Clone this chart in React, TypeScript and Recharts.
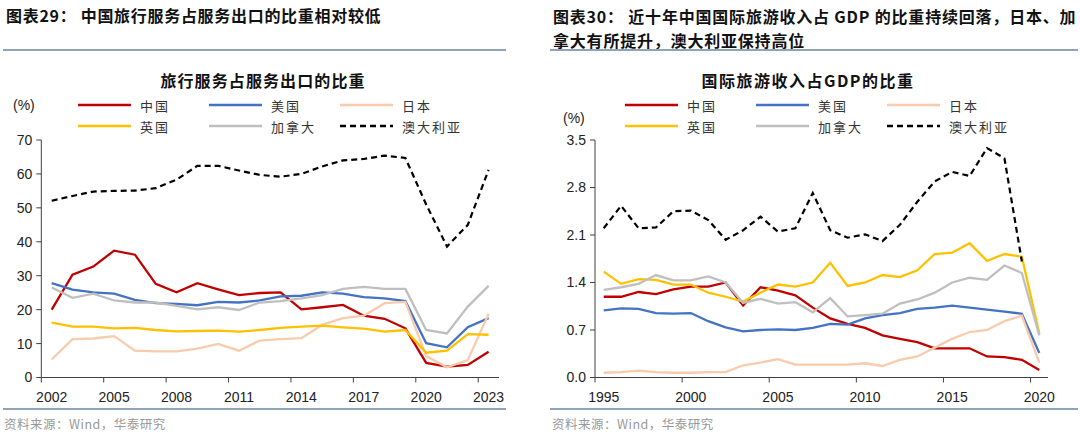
import React from 'react';
import { LineChart, Line, XAxis, YAxis } from 'recharts';

// 图表29：旅行服务占服务出口的比重 (%)
const yearsA = ['2002', '2003', '2004', '2005', '2006', '2007', '2008', '2009', '2010', '2011', '2012',
  '2013', '2014', '2015', '2016', '2017', '2018', '2019', '2020', '2021', '2022', '2023'];
const chinaA = [20, 30.3, 32.7, 37.4, 36.2, 27.6, 25.1, 27.8, 26, 24.3, 24.9, 25.1, 20.1, 20.7, 21.4, 18.2, 17.3, 14.5, 4.3, 3.2, 3.7, 7.6];
const usA = [27.8, 25.9, 25.1, 24.7, 22.9, 21.9, 21.7, 21.3, 22.3, 22.1, 22.7, 23.9, 24.1, 25.1, 24.7, 23.7, 23.3, 22.5, 10.1, 8.9, 14.8, 17.5];
const japanA = [5.3, 11.3, 11.5, 12.2, 7.9, 7.7, 7.7, 8.5, 9.9, 7.9, 10.9, 11.3, 11.6, 15.5, 17.5, 18.2, 21.9, 22.3, 6.3, 3.0, 5.1, 18.8];
const ukA = [16.2, 15, 15, 14.5, 14.6, 14.0, 13.6, 13.7, 13.8, 13.5, 14.0, 14.6, 15.0, 15.3, 14.8, 14.4, 13.5, 14.0, 7.3, 7.9, 12.8, 12.6];
const canadaA = [26.5, 23.5, 24.7, 22.7, 22.1, 22.1, 21.1, 20.1, 20.7, 19.9, 22.1, 22.5, 23.3, 24.3, 26.1, 26.7, 26.1, 26.1, 14.0, 13.0, 20.9, 27];
const australiaA = [52.1, 53.5, 54.8, 55.0, 55.1, 55.8, 58.3, 62.4, 62.4, 61.0, 59.7, 59.2, 60.0, 62.2, 64.0, 64.4, 65.4, 64.7, 51, 38.6, 45, 61.2];
const ticksA = [0, 10, 20, 30, 40, 50, 60, 70];

// 图表30：国际旅游收入占GDP的比重 (%)
const yearsB = ['1995', '1996', '1997', '1998', '1999', '2000', '2001', '2002', '2003', '2004', '2005', '2006', '2007',
  '2008', '2009', '2010', '2011', '2012', '2013', '2014', '2015', '2016', '2017', '2018', '2019', '2020'];
const chinaB = [1.19, 1.19, 1.26, 1.23, 1.30, 1.34, 1.34, 1.40, 1.06, 1.33, 1.28, 1.21, 1.03, 0.87, 0.79, 0.73, 0.62, 0.57, 0.52, 0.43, 0.43, 0.43, 0.31, 0.30, 0.26, 0.11];
const usB = [0.99, 1.02, 1.01, 0.95, 0.94, 0.95, 0.83, 0.74, 0.68, 0.70, 0.71, 0.70, 0.73, 0.79, 0.78, 0.87, 0.92, 0.95, 1.01, 1.03, 1.06, 1.03, 1.0, 0.97, 0.94, 0.36];
const japanB = [0.07, 0.08, 0.1, 0.08, 0.07, 0.07, 0.08, 0.08, 0.18, 0.22, 0.27, 0.19, 0.19, 0.19, 0.19, 0.21, 0.17, 0.26, 0.31, 0.44, 0.57, 0.67, 0.70, 0.83, 0.91, 0.22];
const ukB = [1.56, 1.38, 1.45, 1.44, 1.37, 1.37, 1.25, 1.19, 1.12, 1.25, 1.37, 1.34, 1.40, 1.69, 1.35, 1.40, 1.51, 1.48, 1.58, 1.82, 1.84, 1.98, 1.72, 1.82, 1.78, 0.65];
const canadaB = [1.29, 1.33, 1.38, 1.51, 1.43, 1.43, 1.49, 1.40, 1.10, 1.16, 1.09, 1.11, 0.96, 1.17, 0.90, 0.92, 0.94, 1.09, 1.15, 1.25, 1.40, 1.47, 1.44, 1.65, 1.54, 0.62];
const australiaB = [2.20, 2.53, 2.20, 2.21, 2.45, 2.46, 2.32, 2.03, 2.17, 2.37, 2.15, 2.20, 2.72, 2.17, 2.06, 2.11, 2.01, 2.25, 2.59, 2.89, 3.03, 2.97, 3.38, 3.23, 1.71, null];
const ticksB = [0, 0.7, 1.4, 2.1, 2.8, 3.5];

const series = [
  { key: 'china', name: '中国', color: '#C00000', dash: undefined },
  { key: 'us', name: '美国', color: '#4472C4', dash: undefined },
  { key: 'japan', name: '日本', color: '#F8CBAD', dash: undefined },
  { key: 'uk', name: '英国', color: '#FFC000', dash: undefined },
  { key: 'canada', name: '加拿大', color: '#BFBFBF', dash: undefined },
  { key: 'australia', name: '澳大利亚', color: '#000000', dash: '6 4' },
];

const dataA = yearsA.map((year, i) => ({
  year, china: chinaA[i], us: usA[i], japan: japanA[i], uk: ukA[i], canada: canadaA[i], australia: australiaA[i],
}));
const dataB = yearsB.map((year, i) => ({
  year, china: chinaB[i], us: usB[i], japan: japanB[i], uk: ukB[i], canada: canadaB[i], australia: australiaB[i],
}));

const NUM_FONT = '"Liberation Sans", Arial, sans-serif';
const CJK_FONT = '"Noto Sans CJK SC", "Noto Sans", sans-serif';
const AXIS = '#404040';
const RULE = '#8DA4B9';
const PLOT_TOP = 140;
const PLOT_BOTTOM = 377.5;
const CHART_H = 435;

const makeXTick = (half: number) => (props: any) => {
  const { x, payload } = props;
  return (
    <g>
      <line x1={x - half} x2={x - half} y1={PLOT_BOTTOM} y2={PLOT_BOTTOM + 5} stroke={AXIS} />
      <text x={x} y={PLOT_BOTTOM + 19} textAnchor="middle" dominantBaseline="central"
        fontFamily={NUM_FONT} fontSize={14} fill="#222">{payload.value}</text>
    </g>
  );
};

const LegendBlock = ({ left, top }: { left: number; top: number }) => (
  <div style={{ position: 'absolute', left, top, display: 'grid', gridTemplateColumns: '131px 131px 131px', rowGap: 3 }}>
    {series.map((s) => (
      <div key={s.key} style={{ display: 'flex', alignItems: 'center', height: 18 }}>
        <svg width={53} height={6} style={{ marginRight: 9 }}>
          <line x1={0} x2={53} y1={3} y2={3} stroke={s.color} strokeWidth={2.5} strokeDasharray={s.dash} />
        </svg>
        <span style={{ fontFamily: CJK_FONT, fontSize: 13, color: '#333', letterSpacing: 2 }}>{s.name}</span>
      </div>
    ))}
  </div>
);

type PanelProps = {
  data: any[];
  left: number;
  yWidth: number;
  rightMargin: number;
  domain: [number, number];
  ticks: number[];
  fmt: (v: number) => string;
  count: number;
  interval: number;
};

const Panel = ({ data, left, yWidth, rightMargin, domain, ticks, fmt, count, interval }: PanelProps) => {
  const plotW = 540 - yWidth - rightMargin;
  const half = plotW / count / 2;
  return (
    <div style={{ position: 'absolute', left, top: 0 }}>
      <LineChart width={540} height={CHART_H} data={data}
        margin={{ top: PLOT_TOP, right: rightMargin, bottom: 0, left: 0 }}>
        <XAxis dataKey="year" scale="band" interval={interval} height={CHART_H - PLOT_BOTTOM}
          tickLine={false} axisLine={{ stroke: AXIS }} tick={makeXTick(half)} />
        <YAxis width={yWidth} domain={domain} ticks={ticks} interval={0} tickFormatter={fmt}
          tickSize={5} tickMargin={4} axisLine={{ stroke: AXIS }} tickLine={{ stroke: AXIS }}
          tick={{ fontFamily: NUM_FONT, fontSize: 14, fill: '#222' }} />
        {series.map((s) => (
          <Line key={s.key} dataKey={s.key} name={s.name} type="linear" stroke={s.color}
            strokeWidth={s.dash ? 2.2 : 2.3} strokeDasharray={s.dash} dot={false}
            activeDot={false} isAnimationActive={false} />
        ))}
      </LineChart>
    </div>
  );
};

const textBase: React.CSSProperties = { position: 'absolute', whiteSpace: 'nowrap', margin: 0 };

export default function App() {
  return (
    <div style={{ position: 'absolute', left: 0, top: 0, width: 1080, height: 435, background: '#fff', overflow: 'hidden' }}>
      {/* left panel */}
      <div style={{ ...textBase, left: 6, top: 4, fontFamily: CJK_FONT, fontSize: 16, fontWeight: 700, color: '#111', lineHeight: '22px', letterSpacing: 0.7 }}>
        图表29： 中国旅行服务占服务出口的比重相对较低
      </div>
      <div style={{ position: 'absolute', left: 3, top: 49, width: 503, height: 2, background: RULE }} />
      <Panel data={dataA} left={0} yWidth={41.3} rightMargin={41} domain={[0, 70]} ticks={ticksA}
        fmt={(v) => String(v)} count={yearsA.length} interval={2} />
      <div style={{ ...textBase, left: 0, width: 540, textAlign: 'center', top: 69, fontFamily: CJK_FONT, fontSize: 16, fontWeight: 700, color: '#111', lineHeight: '22px', letterSpacing: 1.1 }}>
        <span style={{ position: 'relative', left: -7 }}>旅行服务占服务出口的比重</span>
      </div>
      <div style={{ ...textBase, left: 13, top: 97, fontFamily: NUM_FONT, fontSize: 14, color: '#222' }}>(%)</div>
      <LegendBlock left={78} top={96} />
      <div style={{ position: 'absolute', left: 3, top: 408, width: 503, height: 2, background: RULE }} />
      <div style={{ ...textBase, left: 4, top: 415, fontFamily: CJK_FONT, fontSize: 12.5, color: '#999', lineHeight: '17px', letterSpacing: 0.5 }}>
        资料来源：Wind，华泰研究
      </div>

      {/* right panel */}
      <div style={{ ...textBase, left: 553, top: 4, fontFamily: CJK_FONT, fontSize: 16, fontWeight: 700, color: '#111', lineHeight: '24px', letterSpacing: 0.8 }}>
        图表30： 近十年中国国际旅游收入占 GDP 的比重持续回落，日本、加<br />拿大有所提升，澳大利亚保持高位
      </div>
      <div style={{ position: 'absolute', left: 550, top: 49, width: 528, height: 2, background: RULE }} />
      <Panel data={dataB} left={540} yWidth={55} rightMargin={32} domain={[0, 3.5]} ticks={ticksB}
        fmt={(v) => v.toFixed(1)} count={yearsB.length} interval={4} />
      <div style={{ ...textBase, left: 540, width: 540, textAlign: 'center', top: 69, fontFamily: CJK_FONT, fontSize: 16, fontWeight: 700, color: '#111', lineHeight: '22px', letterSpacing: 1.5 }}>
        <span style={{ position: 'relative', left: -2 }}>国际旅游收入占GDP的比重</span>
      </div>
      <div style={{ ...textBase, left: 563, top: 110, fontFamily: NUM_FONT, fontSize: 14, color: '#222' }}>(%)</div>
      <LegendBlock left={625} top={96} />
      <div style={{ position: 'absolute', left: 550, top: 408, width: 528, height: 2, background: RULE }} />
      <div style={{ ...textBase, left: 552, top: 415, fontFamily: CJK_FONT, fontSize: 12.5, color: '#999', lineHeight: '17px', letterSpacing: 0.5 }}>
        资料来源：Wind，华泰研究
      </div>
    </div>
  );
}
